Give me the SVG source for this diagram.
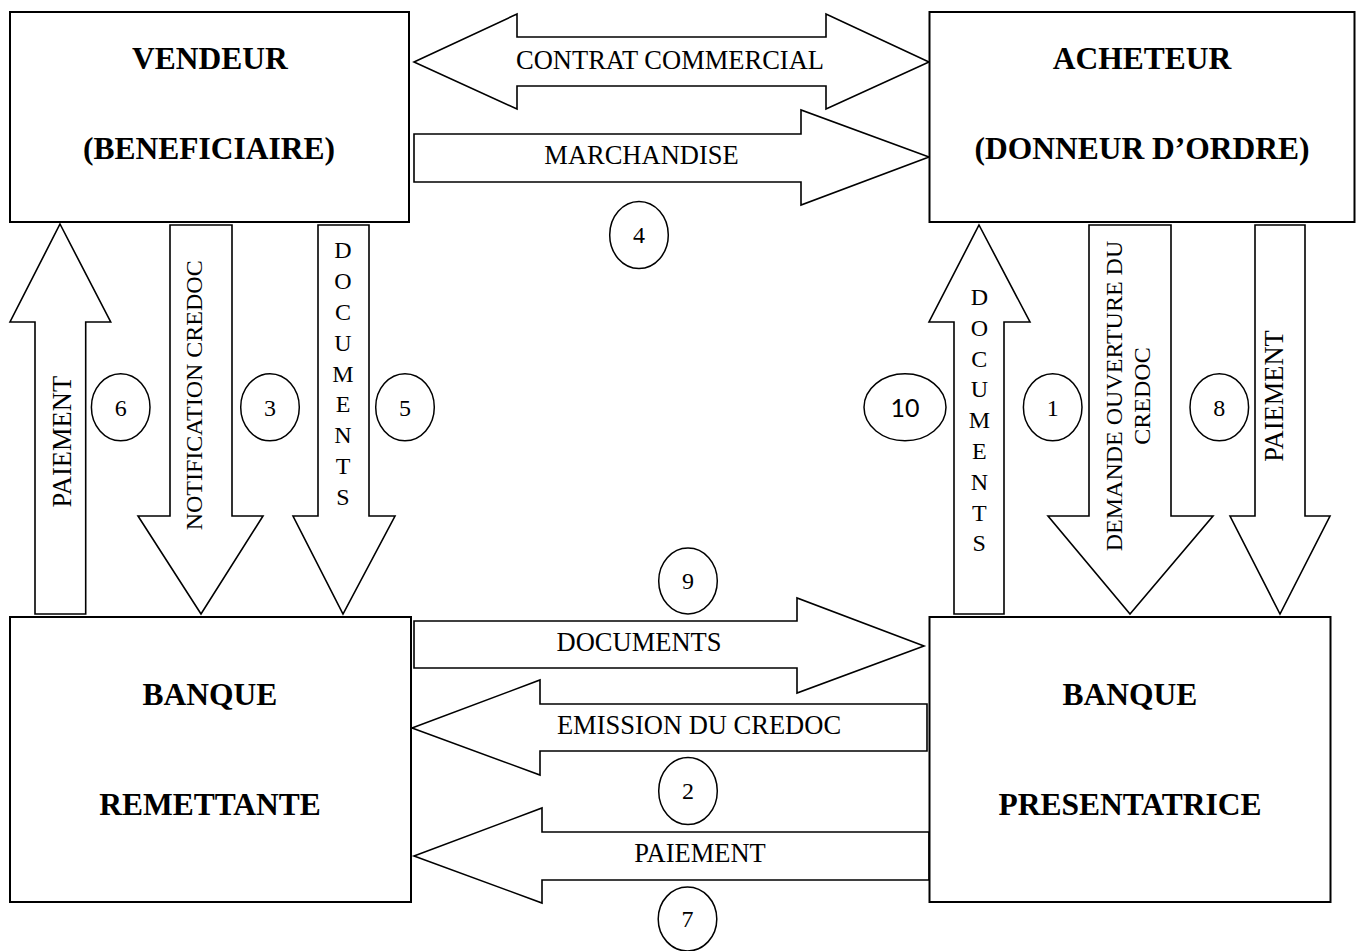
<svg xmlns="http://www.w3.org/2000/svg" width="1358" height="951" viewBox="0 0 1358 951">
<style>
.box{fill:#fff;stroke:#000;stroke-width:2}
.arr{fill:#fff;stroke:#000;stroke-width:1.6;stroke-linejoin:miter}
.circ{fill:#fff;stroke:#000;stroke-width:1.5}
.t{font-family:"Liberation Serif","Times New Roman",serif;fill:#000;text-anchor:middle}
.bt{font-family:"Liberation Serif","Times New Roman",serif;font-weight:bold;font-size:31.5px;fill:#000;text-anchor:middle}
.l{font-size:26.5px}
.s{font-size:24px}
.n{font-family:"Liberation Serif","Times New Roman",serif;font-size:24px;fill:#000;text-anchor:middle}
.n10{font-family:Lato,"Open Sans",sans-serif;font-size:25px;fill:#000;text-anchor:middle}
</style>
<rect width="1358" height="951" fill="#fff"/>
<g id="connectors">
<polygon class="arr" points="414,62 517,14 517,37 826,37 826,14 929,62 826,109 826,86 517,86 517,109"/>
<polygon class="arr" points="414,134 801,134 801,110 929,157 801,205 801,182 414,182"/>
<polygon class="arr" points="414,621 797,621 797,598 924,646 797,693 797,668 414,668"/>
<polygon class="arr" points="412,728 540,680 540,704 927,704 927,751 540,751 540,775"/>
<polygon class="arr" points="414,856 542,808 542,832 929,832 929,880 542,880 542,903"/>
<polygon class="arr" points="60,224 110.7,322 85.7,322 85.7,614 35,614 35,322 10,322"/>
<polygon class="arr" points="170,225 232,225 232,516 263,516 201,614 138,516 170,516"/>
<polygon class="arr" points="318,225 369,225 369,516 395,516 343,614 293,516 318,516"/>
<polygon class="arr" points="979,225 1030,322 1004,322 1004,614 954,614 954,322 929,322"/>
<polygon class="arr" points="1089,225 1171,225 1171,516 1213,516 1130,614 1048,516 1089,516"/>
<polygon class="arr" points="1255,225 1305,225 1305,516 1330,516 1280,614 1230,516 1255,516"/>
<text class="t l" x="670" y="68.5">CONTRAT COMMERCIAL</text>
<text class="t l" x="641.5" y="163.5">MARCHANDISE</text>
<text class="t l" x="639" y="651">DOCUMENTS</text>
<text class="t l" x="699" y="733.5">EMISSION DU CREDOC</text>
<text class="t l" x="700" y="862">PAIEMENT</text>
<text class="t l" transform="translate(70.7,441.7) rotate(-90)">PAIEMENT</text>
<text class="t s" transform="translate(201.7,395.3) rotate(-90)">NOTIFICATION CREDOC</text>
<text class="t l" transform="translate(1283,396) rotate(-90)">PAIEMENT</text>
<text class="t s" transform="translate(1121.7,396) rotate(-90)">DEMANDE OUVERTURE DU</text>
<text class="t s" transform="translate(1150,396) rotate(-90)">CREDOC</text>
<g class="t s">
<text class="t s" x="343" y="258.3">D</text>
<text class="t s" x="343" y="289.1">O</text>
<text class="t s" x="343" y="319.9">C</text>
<text class="t s" x="343" y="350.7">U</text>
<text class="t s" x="343" y="381.5">M</text>
<text class="t s" x="343" y="412.3">E</text>
<text class="t s" x="343" y="443.1">N</text>
<text class="t s" x="343" y="473.9">T</text>
<text class="t s" x="343" y="504.7">S</text>
<text class="t s" x="979.3" y="305">D</text>
<text class="t s" x="979.3" y="335.8">O</text>
<text class="t s" x="979.3" y="366.6">C</text>
<text class="t s" x="979.3" y="397.4">U</text>
<text class="t s" x="979.3" y="428.2">M</text>
<text class="t s" x="979.3" y="459">E</text>
<text class="t s" x="979.3" y="489.8">N</text>
<text class="t s" x="979.3" y="520.6">T</text>
<text class="t s" x="979.3" y="551.4">S</text>
</g>
</g>
<g id="vendeur">
<rect class="box" x="10" y="12" width="399" height="210"/>
<text class="bt" x="210" y="68.5">VENDEUR</text>
<text class="bt" x="209" y="159">(BENEFICIAIRE)</text>
</g>
<g id="acheteur">
<rect class="box" x="929.5" y="12" width="425" height="210"/>
<text class="bt" x="1142" y="68.5">ACHETEUR</text>
<text class="bt" x="1142" y="159">(DONNEUR D’ORDRE)</text>
</g>
<g id="banque-remettante">
<rect class="box" x="10" y="617" width="401" height="285"/>
<text class="bt" x="210" y="705">BANQUE</text>
<text class="bt" x="210" y="815">REMETTANTE</text>
</g>
<g id="banque-presentatrice">
<rect class="box" x="929.5" y="617" width="401" height="285"/>
<text class="bt" x="1130" y="705">BANQUE</text>
<text class="bt" x="1130" y="815">PRESENTATRICE</text>
</g>
<g id="step4"><ellipse class="circ" cx="639" cy="235" rx="29.3" ry="33.5"/><text class="n" x="639" y="243">4</text></g>
<g id="step6"><ellipse class="circ" cx="120.7" cy="407.3" rx="29.3" ry="33.5"/><text class="n" x="120.7" y="415.5">6</text></g>
<g id="step3"><ellipse class="circ" cx="270" cy="407.3" rx="29.3" ry="33.5"/><text class="n" x="270" y="415.5">3</text></g>
<g id="step5"><ellipse class="circ" cx="405" cy="407.3" rx="29.3" ry="33.5"/><text class="n" x="405" y="415.5">5</text></g>
<g id="step10"><ellipse class="circ" cx="905" cy="407.3" rx="41" ry="33.5"/><text class="n10" x="905" y="416.5">10</text></g>
<g id="step1"><ellipse class="circ" cx="1052.7" cy="407.3" rx="29.3" ry="33.5"/><text class="n" x="1052.7" y="415.5">1</text></g>
<g id="step8"><ellipse class="circ" cx="1219.3" cy="407.3" rx="29.3" ry="33.5"/><text class="n" x="1219.3" y="415.5">8</text></g>
<g id="step9"><ellipse class="circ" cx="688" cy="581" rx="29.3" ry="33"/><text class="n" x="688" y="589">9</text></g>
<g id="step2"><ellipse class="circ" cx="688" cy="791" rx="29.3" ry="33.5"/><text class="n" x="688" y="799">2</text></g>
<g id="step7"><ellipse class="circ" cx="687.5" cy="919" rx="29.3" ry="32"/><text class="n" x="687.5" y="927">7</text></g>
</svg>
